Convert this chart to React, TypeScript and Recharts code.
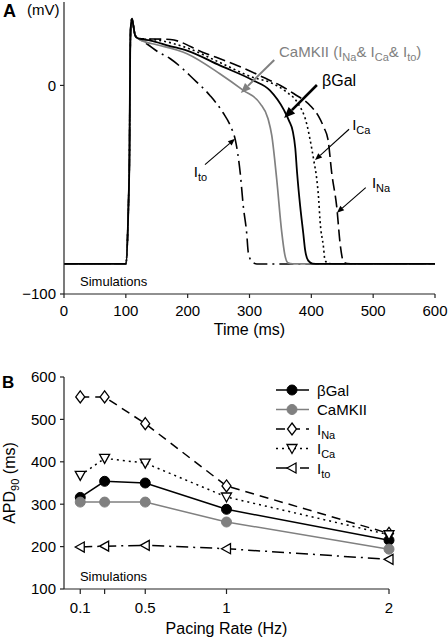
import React from 'react'
import { LineChart, Line, XAxis, YAxis, ReferenceLine, ReferenceDot, Legend, Label } from 'recharts'

const FONT = '"Liberation Sans", Arial, Helvetica, sans-serif'
const GRAY = '#808080'
const AXIS = '#222'

// ---- panel A: simulated action potentials, [time ms, mV]
const upstroke: [number, number][] = [
  [0, -85.6], [100, -85.6], [104, -60], [106, -30], [107, 15], [108, 28], [110, 32], [112, 29], [115, 24], [120, 22.5],
]
const apBGal: [number, number][] = [
  ...upstroke, [140, 21.5], [170, 19], [199, 16.7], [252, 9.6], [306, 2.4], [333, -2.4], [356, -12], [364, -17],
  [370, -22], [374, -30], [377, -42], [382, -58], [387, -71], [390, -79], [395, -84], [402, -85.4], [412, -85.6], [600, -85.6],
]
const apCamk: [number, number][] = [
  ...upstroke, [130, 21], [150, 19.5], [199, 15.2], [252, 5.6], [290, -2.4], [317, -8.6], [330, -16],
  [336, -24], [344, -45], [352, -70], [357, -81], [362, -85], [370, -85.6], [600, -85.6],
]
const apINa: [number, number][] = [
  ...upstroke, [172, 22], [225, 15.8], [280, 9.6], [333, 2.4], [350, 0], [372, -4], [398, -9.6], [412, -15], [420, -20],
  [427, -26], [433, -42], [441, -58], [447, -77], [452, -84.5], [458, -85.4], [470, -85.6], [600, -85.6],
]
const apICa: [number, number][] = [
  ...upstroke, [150, 21.8], [199, 18], [252, 11], [306, 3.8], [333, 1.5], [360, -3.2], [377, -8], [393, -19], [398, -26],
  [404, -36], [409, -45.5], [412, -55], [414, -64.6], [419.6, -77.4], [422, -83.7], [428, -85.4], [440, -85.6], [600, -85.6],
]
const apIto: [number, number][] = [
  ...upstroke, [128, 21], [136, 19.5], [150, 16.5], [172, 12.8], [209, 3.2], [236, -4.8], [257, -13], [270, -20],
  [277, -26], [285, -42], [290, -58], [295.5, -71], [298, -80], [304, -84.5], [312, -85.6], [600, -85.6],
]
const timeTicks = [0, 100, 200, 300, 400, 500, 600]
const mvTicks = [-100, 0]

// arrows in panel A: [from, to] in (ms, mV)
const arrowCamk = [{ x: 340, y: 12.2 }, { x: 286, y: -3.6 }]
const arrowBGal = [{ x: 409, y: 0.2 }, { x: 356, y: -15.6 }]
const arrowICa = [{ x: 461, y: -21 }, { x: 406, y: -35.8 }]
const arrowINa = [{ x: 488, y: -49 }, { x: 441.5, y: -61 }]
const arrowIto = [{ x: 228, y: -38 }, { x: 276.6, y: -25.6 }]

// ---- panel B: APD90 vs pacing rate
const rates = [0.1, 0.25, 0.5, 1, 2]
const rateTicks = [0.1, 0.25, 0.5, 1, 2]
const apdBGal = [316, 354, 350, 288, 215]
const apdCamk = [305, 305, 305, 258, 194]
const apdINa = [553, 553, 490, 343, 231]
const apdICa = [368, 408, 397, 317, 228]
const apdIto = [199, 201, 203, 195, 170]
const apdTicks = [100, 200, 300, 400, 500, 600]

const toPts = (arr: [number, number][]) => arr.map(([t, v]) => ({ t, v }))
const apdData = rates.map((r, i) => ({
  rate: r, bgal: apdBGal[i], camk: apdCamk[i], ina: apdINa[i], ica: apdICa[i], ito: apdIto[i],
}))

const sub = (s: string, size = 11) => [
  <tspan key={s + 'a'} fontSize={size} dy={4}>{s}</tspan>,
]

const arrowShape = (color: string, width: number, head: number) => (p: any) => {
  const { x1, y1, x2, y2 } = p
  if (x1 == null) return <g />
  const a = Math.atan2(y2 - y1, x2 - x1)
  const bx = x2 - head * Math.cos(a)
  const by = y2 - head * Math.sin(a)
  const w = head * 0.42
  const px = -Math.sin(a) * w
  const py = Math.cos(a) * w
  return (
    <g>
      <line x1={x1} y1={y1} x2={bx} y2={by} stroke={color} strokeWidth={width} />
      <polygon points={`${x2},${y2} ${bx + px},${by + py} ${bx - px},${by - py}`} fill={color} />
    </g>
  )
}

const textShape = (node: React.ReactNode, color = '#000', size = 15) => (p: any) => (
  <text x={p.cx} y={p.cy + size * 0.36} fill={color} fontSize={size} fontFamily={FONT}>{node}</text>
)

// markers for panel B
const circleDot = (fill: string) => (p: any) => (
  <circle key={`c-${fill}-${p.index}`} cx={p.cx} cy={p.cy} r={5} fill={fill} stroke={fill} />
)
const diamondDot = (p: any) => (
  <polygon key={`d-${p.index}`} points={`${p.cx},${p.cy - 6} ${p.cx + 4.5},${p.cy} ${p.cx},${p.cy + 6} ${p.cx - 4.5},${p.cy}`}
    fill="#fff" stroke="#000" strokeWidth={1.3} />
)
const downTriDot = (p: any) => (
  <polygon key={`v-${p.index}`} points={`${p.cx - 5},${p.cy - 4} ${p.cx + 5},${p.cy - 4} ${p.cx},${p.cy + 5}`}
    fill="#fff" stroke="#000" strokeWidth={1.3} />
)
const leftTriDot = (p: any) => (
  <polygon key={`l-${p.index}`} points={`${p.cx - 5},${p.cy} ${p.cx + 4},${p.cy - 5} ${p.cx + 4},${p.cy + 5}`}
    fill="#fff" stroke="#000" strokeWidth={1.3} />
)

const SERIES_B = [
  { key: 'bgal', color: '#000', dash: undefined, dot: circleDot('#000'), label: <tspan>βGal</tspan> },
  { key: 'camk', color: GRAY, dash: undefined, dot: circleDot(GRAY), label: <tspan>CaMKII</tspan> },
  { key: 'ina', color: '#000', dash: '9 6', dot: diamondDot, label: <>I{sub('Na')}</> },
  { key: 'ica', color: '#000', dash: '2 4', dot: downTriDot, label: <>I{sub('Ca')}</> },
  { key: 'ito', color: '#000', dash: '12 5 2 5', dot: leftTriDot, label: <>I{sub('to')}</> },
]

const renderLegend = () => (
  <svg width={150} height={100} style={{ overflow: 'visible', display: 'block' }}>
    {SERIES_B.map((s, i) => {
      const y = 10 + i * 19.5
      return (
        <g key={s.key}>
          <line x1={6} x2={39} y1={y} y2={y} stroke={s.color} strokeWidth={1.5} strokeDasharray={s.dash} />
          {s.dot({ cx: 22, cy: y, index: i })}
          <text x={47} y={y + 5.5} fontSize={15} fill="#000" fontFamily={FONT}>{s.label}</text>
        </g>
      )
    })}
  </svg>
)

const ApdLabel = (props: any) => {
  const vb = props.viewBox || { y: 37, height: 212 }
  const cx = 15
  const cy = vb.y + vb.height / 2
  return (
    <text x={cx} y={cy} transform={`rotate(-90, ${cx}, ${cy})`} textAnchor="middle" fontSize={16} fill="#000" fontFamily={FONT}>
      APD<tspan fontSize={11} dy={4}>90</tspan><tspan dy={-4}> (ms)</tspan>
    </text>
  )
}

const tickStyle = { fill: '#000', fontSize: 15 }
const minus = (v: number) => (v < 0 ? `\u2212${-v}` : `${v}`)

export default function App() {
  return (
    <div style={{ position: 'absolute', left: 0, top: 0, width: 448, height: 642, background: '#fff', fontFamily: FONT }}>
      <LineChart width={448} height={340} margin={{ top: 2, right: 13, left: 0, bottom: 0 }}>
        <XAxis type="number" dataKey="t" domain={[0, 600]} ticks={timeTicks} tick={tickStyle} tickSize={4} tickMargin={7}
          stroke={AXIS} strokeWidth={1.2} height={46} allowDuplicatedCategory={false}>
          <Label value="Time (ms)" position="insideBottom" offset={5} fontSize={16} fill="#000" />
        </XAxis>
        <YAxis type="number" dataKey="v" domain={[-100, 40]} ticks={mvTicks} tick={tickStyle} tickSize={4} tickMargin={4}
          tickFormatter={minus} stroke={AXIS} strokeWidth={1.2} width={64} />
        <Line data={toPts(apINa)} dataKey="v" type="monotone" stroke="#000" strokeWidth={1.6} strokeDasharray="12 5" dot={false} activeDot={false} isAnimationActive={false} />
        <Line data={toPts(apICa)} dataKey="v" type="monotone" stroke="#000" strokeWidth={1.6} strokeDasharray="2 3" dot={false} activeDot={false} isAnimationActive={false} />
        <Line data={toPts(apIto)} dataKey="v" type="monotone" stroke="#000" strokeWidth={1.6} strokeDasharray="14 5 2 5" dot={false} activeDot={false} isAnimationActive={false} />
        <Line data={toPts(apCamk)} dataKey="v" type="monotone" stroke={GRAY} strokeWidth={1.7} dot={false} activeDot={false} isAnimationActive={false} />
        <Line data={toPts(apBGal)} dataKey="v" type="monotone" stroke="#000" strokeWidth={1.8} dot={false} activeDot={false} isAnimationActive={false} />
        <ReferenceLine segment={arrowCamk} shape={arrowShape(GRAY, 2, 10)} />
        <ReferenceLine segment={arrowBGal} shape={arrowShape('#000', 2.6, 11)} />
        <ReferenceLine segment={arrowICa} shape={arrowShape('#000', 1.1, 7)} />
        <ReferenceLine segment={arrowINa} shape={arrowShape('#000', 1.1, 7)} />
        <ReferenceLine segment={arrowIto} shape={arrowShape('#000', 1.1, 7)} />
        <ReferenceDot x={347.7} y={16} shape={textShape(
          <>CaMKII (I<tspan fontSize={11} dy={4}>Na</tspan><tspan dy={-4}>&amp; I</tspan><tspan fontSize={11} dy={4}>Ca</tspan><tspan dy={-4}>&amp; I</tspan><tspan fontSize={11} dy={4}>to</tspan><tspan dy={-4}>)</tspan></>, GRAY)} />
        <ReferenceDot x={417.3} y={2.6} shape={textShape(<>βGal</>, '#000', 16)} />
        <ReferenceDot x={466} y={-19} shape={textShape(<>I<tspan fontSize={11} dy={4}>Ca</tspan></>)} />
        <ReferenceDot x={498} y={-46.5} shape={textShape(<>I<tspan fontSize={11} dy={4}>Na</tspan></>)} />
        <ReferenceDot x={210} y={-41.5} shape={textShape(<>I<tspan fontSize={11} dy={4}>to</tspan></>)} />
        <ReferenceDot x={26} y={-93.8} shape={textShape(<>Simulations</>, '#000', 13)} />
      </LineChart>

      <LineChart width={448} height={302} data={apdData} margin={{ top: 37, right: 59, left: 0, bottom: 0 }}>
        <XAxis type="number" dataKey="rate" domain={[0, 2]} ticks={rateTicks} tick={tickStyle} tickSize={5} tickMargin={8}
          tickFormatter={(v: number) => (v === 0.25 ? '' : `${v}`)} stroke={AXIS} strokeWidth={1.2} height={53}>
          <Label value="Pacing Rate (Hz)" position="insideBottom" offset={8} fontSize={16} fill="#000" />
        </XAxis>
        <YAxis type="number" domain={[100, 600]} ticks={apdTicks} tick={tickStyle} tickSize={4} tickMargin={4}
          stroke={AXIS} strokeWidth={1.2} width={64}>
          <Label content={ApdLabel} />
        </YAxis>
        <Legend layout="vertical" align="center" verticalAlign="middle" content={renderLegend}
          wrapperStyle={{ left: 270, top: 40, width: 150, height: 100 }} />
        {SERIES_B.map(s => (
          <Line key={s.key} dataKey={s.key} type="linear" stroke={s.color} strokeWidth={1.5}
            strokeDasharray={s.dash} dot={s.dot} activeDot={false} isAnimationActive={false} />
        ))}
        <ReferenceDot x={0.098} y={131} shape={textShape(<>Simulations</>, '#000', 13)} />
      </LineChart>

      <svg width={448} height={642} style={{ position: 'absolute', left: 0, top: 0, pointerEvents: 'none' }}>
        <text x={3} y={17} fontSize={18} fontWeight="bold" fontFamily={FONT}>A</text>
        <text x={27} y={15} fontSize={15} fontFamily={FONT}>(mV)</text>
        <text x={2} y={388} fontSize={17} fontWeight="bold" fontFamily={FONT}>B</text>
      </svg>
    </div>
  )
}
